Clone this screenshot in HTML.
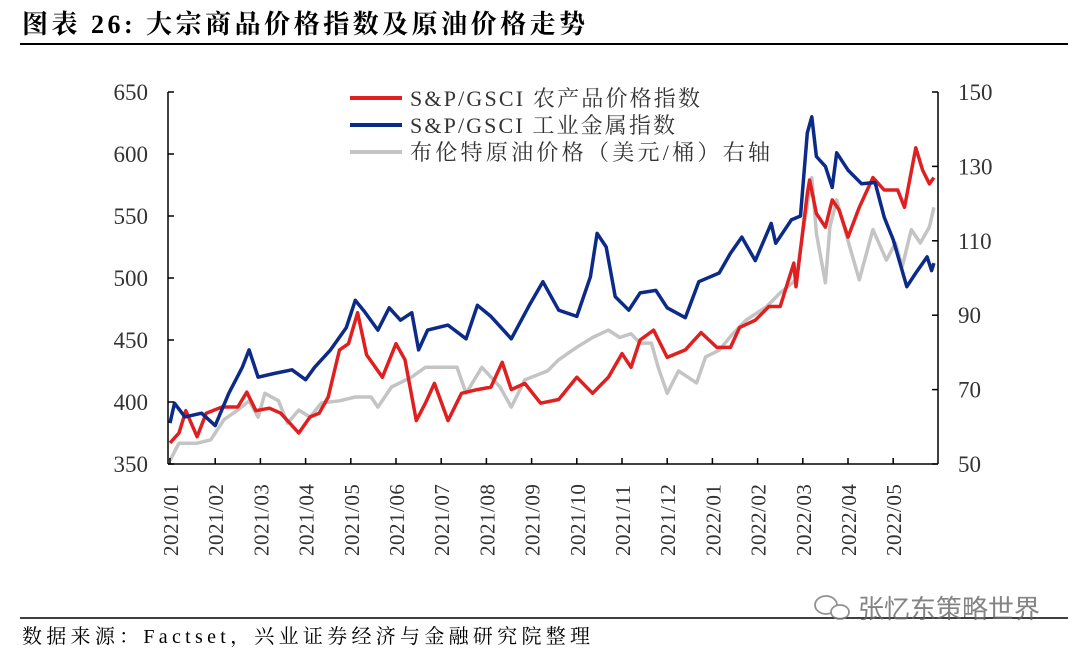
<!DOCTYPE html>
<html><head><meta charset="utf-8">
<style>
body{margin:0;background:#fff;width:1080px;height:658px;overflow:hidden;font-family:"Liberation Serif","Noto Serif CJK SC",serif;}
svg{display:block}
</style></head>
<body>
<svg id="chart" width="1080" height="658" xmlns="http://www.w3.org/2000/svg">
<text x="22" y="33" font-size="26" font-weight="bold" fill="#000" letter-spacing="3.5" font-family="Liberation Serif, Noto Serif CJK SC, serif">图表 26:  大宗商品价格指数及原油价格走势</text>
<line x1="20" y1="44" x2="1068" y2="44" stroke="#000" stroke-width="2"/>
<g id="plot"></g>
<g font-size="22" fill="#333" font-family="Liberation Serif, Noto Serif CJK SC, serif">
<line x1="350" y1="98" x2="402" y2="98" stroke="#e02020" stroke-width="4"/>
<text x="410" y="106" textLength="290" lengthAdjust="spacing">S&amp;P/GSCI 农产品价格指数</text>
<line x1="350" y1="125" x2="402" y2="125" stroke="#0c2a88" stroke-width="4"/>
<text x="410" y="133" textLength="265" lengthAdjust="spacing">S&amp;P/GSCI 工业金属指数</text>
<line x1="350" y1="152" x2="402" y2="152" stroke="#c4c4c4" stroke-width="4"/>
<text x="410" y="160" textLength="360" lengthAdjust="spacing">布伦特原油价格（美元/桶）右轴</text>
</g>
<line x1="20" y1="618" x2="1068" y2="618" stroke="#000" stroke-width="1.5"/>
<text x="22" y="643" font-size="20" fill="#000" textLength="568" lengthAdjust="spacing" font-family="Liberation Serif, Noto Serif CJK SC, serif">数据来源：Factset，兴业证券经济与金融研究院整理</text>
<g opacity="0.8">
<ellipse cx="826" cy="605" rx="11" ry="9" fill="none" stroke="#777" stroke-width="1.8"/>
<ellipse cx="840" cy="612" rx="9" ry="7" fill="#fff" stroke="#777" stroke-width="1.8"/>
<text x="858" y="618" font-size="26" fill="#666" font-family="Liberation Sans, Noto Sans CJK SC, sans-serif">张忆东策略世界</text>
</g>
</svg>
<script>
const monthLabels = ["2021/01","2021/02","2021/03","2021/04","2021/05","2021/06","2021/07","2021/08","2021/09","2021/10","2021/11","2021/12","2022/01","2022/02","2022/03","2022/04","2022/05"];
const leftTicks = [350,400,450,500,550,600,650];
const rightTicks = [50,70,90,110,130,150];
const metalT = [0,0.1,0.33,0.7,1.0,1.3,1.6,1.75,1.95,2.3,2.7,3.0,3.2,3.55,3.9,4.1,4.3,4.6,4.85,5.1,5.35,5.5,5.7,6.15,6.55,6.8,7.1,7.55,7.95,8.25,8.6,9.0,9.3,9.45,9.65,9.85,10.15,10.4,10.75,11.0,11.4,11.7,12.15,12.4,12.65,12.95,13.3,13.4,13.75,13.95,14.1,14.2,14.3,14.5,14.65,14.75,15.0,15.3,15.6,15.8,16.0,16.3,16.5,16.75,16.85,16.9];
const metalV = [383,399,388,391,381,407,428,442,420,423,426,418,428,442,460,482,473,458,476,466,472,442,458,462,451,478,469,451,478,497,474,469,501,536,525,485,474,488,490,476,468,497,504,520,533,514,544,528,547,550,617,630,598,590,573,601,587,576,577,549,531,493,504,517,506,512];
const agriT = [0,0.2,0.35,0.6,0.8,1.15,1.5,1.7,1.9,2.2,2.45,2.85,3.1,3.3,3.5,3.75,3.95,4.15,4.35,4.7,5.0,5.2,5.45,5.65,5.85,6.15,6.45,6.8,7.1,7.35,7.55,7.85,8.2,8.6,9.0,9.35,9.7,10.0,10.2,10.4,10.7,11.0,11.4,11.75,12.1,12.4,12.6,12.95,13.25,13.5,13.8,13.85,14.1,14.15,14.3,14.5,14.65,14.8,15.0,15.25,15.55,15.8,16.1,16.25,16.5,16.65,16.8,16.9];
const agriV = [367,375,393,372,391,396,396,408,393,395,391,375,388,391,404,442,447,472,438,420,447,434,385,399,415,385,407,410,412,432,410,415,399,402,420,407,420,439,428,450,458,436,442,456,444,444,460,466,477,477,512,493,568,579,552,541,563,555,533,557,581,571,571,557,605,587,576,581];
const oilT = [0,0.2,0.6,0.9,1.2,1.5,1.75,1.95,2.1,2.4,2.6,2.85,3.1,3.35,3.75,4.1,4.45,4.6,4.9,5.35,5.65,6.0,6.35,6.55,6.9,7.3,7.55,7.85,8.35,8.6,9.0,9.35,9.7,9.95,10.2,10.4,10.65,10.8,11.0,11.25,11.65,11.85,12.15,12.45,12.75,13.2,13.5,13.85,14.0,14.2,14.3,14.5,14.6,14.75,15.0,15.25,15.55,15.85,16.05,16.2,16.4,16.6,16.8,16.9];
const oilV = [51,55.6,55.6,56.5,62,64.5,67,62.6,69,67,61,64.5,62.6,66.4,67,68,68,65.3,70.7,73.4,76,76,76,69,76,70.7,65.3,72.6,75,78,81.4,84,86,84,85,82.5,82.5,76,69,75,71.8,78.8,80.6,85,88.7,92.3,96,99.5,112,127,112,98.7,113.7,121,110,99.5,113,104.8,109.4,103,113,109.4,113.7,119];

const X0=168, X1=938, Y0=464, Y1=92;
const xS = t => 170 + t*45.2;
const yL = v => Y0 - (v-350)/300*(Y0-Y1);
const yR = v => Y0 - (v-50)/100*(Y0-Y1);
const NS="http://www.w3.org/2000/svg";
const plot=document.getElementById('plot');
function mk(tag,attrs){const e=document.createElementNS(NS,tag);for(const k in attrs)e.setAttribute(k,attrs[k]);plot.appendChild(e);return e;}
function line(T,V,sc,color,name){
  const d=T.map((t,i)=>(i?'L':'M')+xS(t).toFixed(1)+' '+sc(V[i]).toFixed(1)).join(' ');
  const p=mk('path',{d:d,fill:'none',stroke:color,'stroke-width':3.5,'stroke-linejoin':'round'});
  
  
}
line(oilT,oilV,yR,'#c4c4c4','oil-line');
line(agriT,agriV,yL,'#e02020','agri-line');
line(metalT,metalV,yL,'#0c2a88','metal-line');
let a=mk('line',{x1:X0,y1:Y1,x2:X0,y2:Y0,stroke:'#000','stroke-width':1.5});


a=mk('line',{x1:X1,y1:Y1,x2:X1,y2:Y0,stroke:'#000','stroke-width':1.5});


a=mk('line',{x1:X0,y1:Y0,x2:X1,y2:Y0,stroke:'#000','stroke-width':1.5});


leftTicks.forEach(v=>{
  mk('line',{x1:X0,y1:yL(v),x2:X0+6,y2:yL(v),stroke:'#000','stroke-width':1.5});
  const t=mk('text',{x:X0-20,y:yL(v)+8,'text-anchor':'end','font-size':23,fill:'#333'});
  t.textContent=v;
  
  
});
rightTicks.forEach(v=>{
  mk('line',{x1:X1-6,y1:yR(v),x2:X1,y2:yR(v),stroke:'#000','stroke-width':1.5});
  const t=mk('text',{x:X1+20,y:yR(v)+8,'font-size':23,fill:'#333'});
  t.textContent=v;
  
  
});
monthLabels.forEach((m,i)=>{
  const x=xS(i);
  mk('line',{x1:x,y1:Y0,x2:x,y2:Y0-6,stroke:'#000','stroke-width':1.5});
  const t=mk('text',{x:0,y:0,transform:`translate(${x+8},556) rotate(-90)`,'font-size':21,fill:'#333','letter-spacing':'0.5'});
  t.textContent=m;
  
  
});
</script>
</body></html>
